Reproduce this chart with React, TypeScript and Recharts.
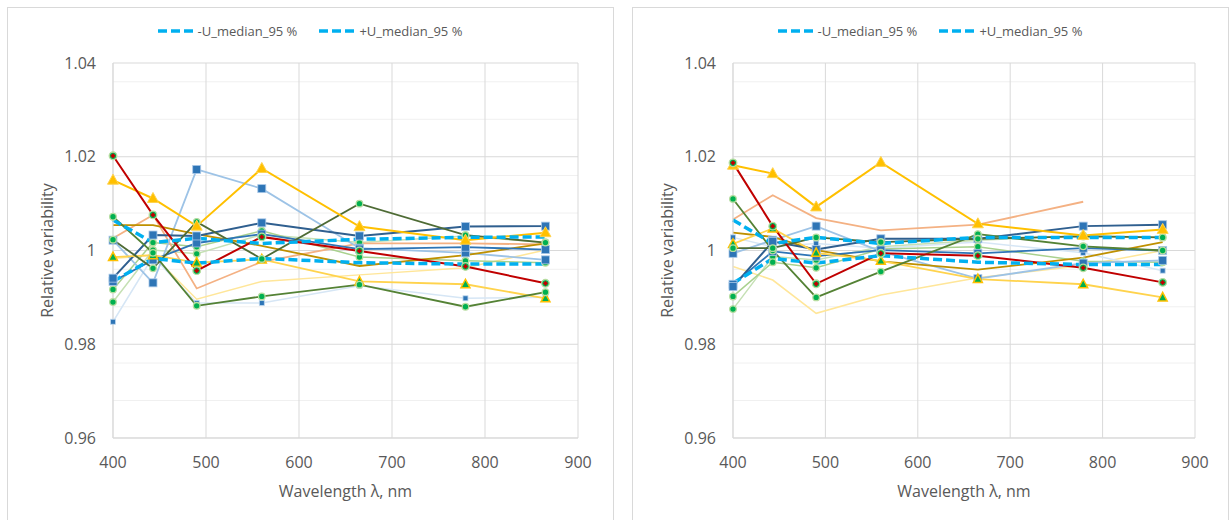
import { CartesianGrid, Label, Line, LineChart, XAxis, YAxis } from 'recharts';

// wavelengths (nm) of the measured bands
const wavelengths = [400, 443, 490, 560, 665, 779, 865];
const xTicks = [400, 500, 600, 700, 800, 900];
const yTicks = [0.96, 0.98, 1.0, 1.02, 1.04];
const yMinor = [0.964, 0.968, 0.972, 0.976, 0.984, 0.988, 0.992, 0.996, 1.004, 1.008, 1.012, 1.016, 1.024, 1.028, 1.032, 1.036];

// left panel
const leftRed = [1.0202, 1.0076, 0.9957, 1.0029, 0.9999, 0.9966, 0.993];
const leftYellow = [1.015, 1.0111, 1.0052, 1.0175, 1.0051, 1.0022, 1.0038];
const leftLightBlue = [1.0022, 0.9931, 1.0173, 1.0132, 1.0005, 0.9995, 0.998];
const leftDarkBlue = [0.9941, 1.0033, 1.0031, 1.0059, 1.0031, 1.0051, 1.0052];
const leftBlue = [0.9934, 0.998, 1.0016, 1.0035, 1.0003, 1.0007, 1.0002];
const leftPaleBlue = [0.9848, 0.9987, 0.9888, 0.9888, 0.9925, 0.9898, 0.99];
const leftDarkGreen = [1.0023, 0.9962, 1.0061, 0.9982, 1.01, 1.0033, 1.0017];
const leftForest = [1.0072, 0.9995, 0.9882, 0.9902, 0.9927, 0.988, 0.9911];
const leftOlive = [1.0054, 1.0054, 1.0035, 1.001, 0.9967, 0.999, 1.0015];
const leftOrange = [1.0026, 1.0076, 0.9919, 0.9976, 1.0015, 1.0015, 1.0013];
const leftPaleYellow = [0.9983, 0.999, 0.9896, 0.9934, 0.9948, 0.9963, 1.0001];
const leftAmber = [0.9986, 0.999, 0.9974, 0.9981, 0.9934, 0.9928, 0.9898];
const leftLightGreen = [0.9917, 1.0017, 1.0008, 1.0042, 0.9986, 0.9978, 0.9974];
const leftPaleGreen = [0.989, 1.0001, 0.9993, 1.0034, 1.0017, 1.0031, 1.0017];
const leftMinusU = [0.9934, 0.9983, 0.9973, 0.9983, 0.9974, 0.9971, 0.9971];
const leftPlusU = [1.0065, 1.0017, 1.0026, 1.0015, 1.0024, 1.0028, 1.0029];

// right panel
const rightRed = [1.0187, 1.0052, 0.9929, 0.9994, 0.9989, 0.9963, 0.9932];
const rightYellow = [1.0182, 1.0164, 1.0093, 1.0188, 1.0057, 1.0032, 1.0045];
const rightOrange = [1.0066, 1.0118, 1.0069, 1.0043, 1.0055, 1.0104, null];
const rightDarkBlue = [0.9923, 1.0019, 1.0002, 1.0025, 1.0025, 1.0052, 1.0055];
const rightBlue = [0.9928, 0.9998, 0.9988, 1.0001, 0.9994, 1.0005, 1.0];
const rightLightBlue = [0.9994, 1.0022, 1.0052, 0.9998, 0.994, 0.9973, 0.9979];
const rightPaleBlue = [1.0028, 1.0008, 1.0015, 1.0005, 1.0018, 0.9995, 0.9957];
const rightForest = [1.011, 1.0, 0.99, 0.9955, 1.0035, 1.0009, 1.0];
const rightDarkGreen = [1.0005, 1.0005, 1.0028, 1.0018, 1.0025, 1.003, 1.0028];
const rightOlive = [1.0038, 1.0029, 1.0001, 0.9977, 0.9959, 0.9985, 1.0018];
const rightPaleYellow = [0.9966, 0.9937, 0.9866, 0.9905, 0.9942, 0.9968, 1.0];
const rightAmber = [1.0014, 1.0047, 0.9995, 0.9978, 0.9939, 0.9928, 0.99];
const rightLightGreen = [0.9902, 0.9975, 0.9963, 1.0003, 1.0008, 0.9977, 0.9975];
const rightPaleGreen = [0.9875, 0.9987, 0.998, 1.0008, 1.0022, 1.0032, 1.0028];
const rightMinusU = [0.993, 0.9983, 0.9973, 0.9989, 0.9975, 0.997, 0.997];
const rightPlusU = [1.0065, 1.0015, 1.0028, 1.0015, 1.0028, 1.0028, 1.0028];

const legendNames = ['-U_median_95 %', '+U_median_95 %'];

type Marker = 'none' | 'square' | 'smallSquare' | 'triangle' | 'greenTriangle' | 'circle' | 'diamond';

interface Series {
  key: string;
  name: string;
  color: string;
  width: number;
  marker: Marker;
  dashed?: boolean;
  values: (number | null)[];
}

const TEXT = '#595959';
const FONT = '"Open Sans", sans-serif';
const U_BLUE = '#00B0F0';

function buildSeries(v: Record<string, (number | null)[]>): Series[] {
  return [
    { key: 'paleYellow', name: 'paleYellow', color: '#FFE699', width: 1.5, marker: 'none', values: v.paleYellow },
    { key: 'paleBlue', name: 'paleBlue', color: '#D6E6F5', width: 1.5, marker: 'smallSquare', values: v.paleBlue },
    { key: 'paleGreen', name: 'paleGreen', color: '#C5E0B4', width: 1.5, marker: 'circle', values: v.paleGreen },
    { key: 'lightGreen', name: 'lightGreen', color: '#A9D18E', width: 1.5, marker: 'circle', values: v.lightGreen },
    { key: 'orange', name: 'orange', color: '#F4B183', width: 1.8, marker: 'none', values: v.orange },
    { key: 'lightBlue', name: 'lightBlue', color: '#9DC3E6', width: 1.8, marker: 'square', values: v.lightBlue },
    { key: 'olive', name: 'olive', color: '#BF9000', width: 1.8, marker: 'none', values: v.olive },
    { key: 'blue', name: 'blue', color: '#2E75B6', width: 1.8, marker: 'square', values: v.blue },
    { key: 'darkBlue', name: 'darkBlue', color: '#2F5F8F', width: 2, marker: 'square', values: v.darkBlue },
    { key: 'amber', name: 'amber', color: '#FFD34D', width: 1.8, marker: 'greenTriangle', values: v.amber },
    { key: 'forest', name: 'forest', color: '#548235', width: 1.8, marker: 'circle', values: v.forest },
    { key: 'darkGreen', name: 'darkGreen', color: '#4E6B35', width: 1.8, marker: 'circle', values: v.darkGreen },
    { key: 'yellow', name: 'yellow', color: '#FFC000', width: 2, marker: 'triangle', values: v.yellow },
    { key: 'red', name: 'red', color: '#C00000', width: 2, marker: 'diamond', values: v.red },
    { key: 'minusU', name: legendNames[0], color: U_BLUE, width: 3.5, marker: 'none', dashed: true, values: v.minusU },
    { key: 'plusU', name: legendNames[1], color: U_BLUE, width: 3.5, marker: 'none', dashed: true, values: v.plusU },
  ];
}

const leftSeries = buildSeries({
  red: leftRed, yellow: leftYellow, lightBlue: leftLightBlue, darkBlue: leftDarkBlue, blue: leftBlue,
  paleBlue: leftPaleBlue, darkGreen: leftDarkGreen, forest: leftForest, olive: leftOlive, orange: leftOrange,
  paleYellow: leftPaleYellow, amber: leftAmber, lightGreen: leftLightGreen, paleGreen: leftPaleGreen,
  minusU: leftMinusU, plusU: leftPlusU,
});

const rightSeries = buildSeries({
  red: rightRed, yellow: rightYellow, lightBlue: rightLightBlue, darkBlue: rightDarkBlue, blue: rightBlue,
  paleBlue: rightPaleBlue, darkGreen: rightDarkGreen, forest: rightForest, olive: rightOlive, orange: rightOrange,
  paleYellow: rightPaleYellow, amber: rightAmber, lightGreen: rightLightGreen, paleGreen: rightPaleGreen,
  minusU: rightMinusU, plusU: rightPlusU,
});

function toRows(series: Series[]) {
  return wavelengths.map((w, i) => {
    const row: Record<string, number | null> = { w };
    series.forEach((s) => { row[s.key] = s.values[i]; });
    return row;
  });
}

function makeDot(marker: Marker) {
  return (props: any) => {
    const { cx, cy, index, value } = props;
    const k = `dot-${index}`;
    if (cx == null || cy == null || value == null) return <g key={k} />;
    switch (marker) {
      case 'square':
        return <rect key={k} x={cx - 4} y={cy - 4} width={8} height={8} fill="#2E75B6" stroke="#A9C8E8" strokeWidth={0.8} />;
      case 'smallSquare':
        return <rect key={k} x={cx - 2.5} y={cy - 2.5} width={5} height={5} fill="#2E75B6" stroke="#BDD7EE" strokeWidth={0.8} />;
      case 'triangle':
        return <path key={k} d={`M${cx},${cy - 6} L${cx + 5.5},${cy + 4} L${cx - 5.5},${cy + 4} Z`} fill="#FFC000" stroke="#FFD34D" strokeWidth={1} />;
      case 'greenTriangle':
        return <path key={k} d={`M${cx},${cy - 5} L${cx + 4.5},${cy + 3.5} L${cx - 4.5},${cy + 3.5} Z`} fill="#00B050" stroke="#FFC000" strokeWidth={1.5} />;
      case 'circle':
        return <circle key={k} cx={cx} cy={cy} r={3.3} fill="#00B050" stroke="#B7DDA0" strokeWidth={1.3} />;
      case 'diamond':
        return (
          <g key={k}>
            <circle cx={cx} cy={cy} r={3.8} fill="#00B050" stroke="#B7DDA0" strokeWidth={1.3} />
            <path d={`M${cx},${cy - 2.6} L${cx + 2.6},${cy} L${cx},${cy + 2.6} L${cx - 2.6},${cy} Z`} fill="#C00000" />
          </g>
        );
      default:
        return <g key={k} />;
    }
  };
}

const fmtY = (v: number) => String(Number(v.toFixed(2)));

interface PanelProps {
  series: Series[];
  left: number;
  width: number;
  marginLeft: number;
  marginRight: number;
  labelOffset: number;
}

function Panel({ series, left, width, marginLeft, marginRight, labelOffset }: PanelProps) {
  const rows = toRows(series);
  return (
    <div style={{ position: 'absolute', left, top: 0, width, height: 520 }}>
      <LineChart width={width} height={520} data={rows} margin={{ top: 63, right: marginRight, bottom: 22, left: marginLeft }}>
        <CartesianGrid horizontalValues={yMinor} vertical={false} stroke="#F0F0F0" strokeWidth={1} />
        <CartesianGrid stroke="#D9D9D9" strokeWidth={1} />
        <XAxis
          dataKey="w"
          type="number"
          domain={[400, 900]}
          ticks={xTicks}
          height={60}
          axisLine={{ stroke: '#D9D9D9' }}
          tickLine={false}
          tickSize={0}
          tickMargin={19}
          tick={{ fill: TEXT, fontSize: 16, fontFamily: FONT }}
        >
          <Label value="Wavelength λ, nm" position="insideBottom" offset={1} fill={TEXT} fontSize={16} fontFamily={FONT} />
        </XAxis>
        <YAxis
          type="number"
          domain={[0.96, 1.04]}
          ticks={yTicks}
          width={75}
          tickFormatter={fmtY}
          axisLine={{ stroke: '#D9D9D9' }}
          tickLine={false}
          tickSize={0}
          tickMargin={17}
          tick={{ fill: TEXT, fontSize: 16, fontFamily: FONT }}
        >
          <Label
            value="Relative variability"
            angle={-90}
            position="insideLeft"
            offset={labelOffset}
            fill={TEXT}
            fontSize={16}
            fontFamily={FONT}
            style={{ textAnchor: 'middle' }}
          />
        </YAxis>
        {series.map((s) => (
          <Line
            key={s.key}
            dataKey={s.key}
            name={s.name}
            type="linear"
            stroke={s.color}
            strokeWidth={s.width}
            strokeDasharray={s.dashed ? '9 4' : undefined}
            dot={s.marker === 'none' ? false : makeDot(s.marker)}
            activeDot={false}
            legendType={s.dashed ? 'line' : 'none'}
            isAnimationActive={false}
          />
        ))}
      </LineChart>
    </div>
  );
}

function LegendRow({ left, width }: { left: number; width: number }) {
  return (
    <div
      style={{
        position: 'absolute', left, top: 21, width, height: 20, display: 'flex', justifyContent: 'center',
        alignItems: 'center', gap: 22, fontFamily: FONT, fontSize: 13, color: TEXT,
      }}
    >
      {legendNames.map((n) => (
        <div key={n} style={{ display: 'flex', alignItems: 'center' }}>
          <svg width={38} height={8} style={{ marginRight: 2 }}>
            <line x1={0} y1={4} x2={38} y2={4} stroke={U_BLUE} strokeWidth={3.5} strokeDasharray="9 4" />
          </svg>
          <span>{n}</span>
        </div>
      ))}
    </div>
  );
}

export default function App() {
  return (
    <div style={{ position: 'absolute', left: 0, top: 0, width: 1229, height: 520, background: '#fff', overflow: 'hidden' }}>
      <div style={{ position: 'absolute', left: 7, top: 7, width: 605, height: 530, border: '1px solid #D9D9D9' }} />
      <div style={{ position: 'absolute', left: 632, top: 7, width: 595, height: 530, border: '1px solid #D9D9D9' }} />
      <LegendRow left={7} width={606} />
      <LegendRow left={632} width={596} />
      <Panel series={leftSeries} left={0} width={615} marginLeft={38} marginRight={37} labelOffset={9} />
      <Panel series={rightSeries} left={615} width={614} marginLeft={43} marginRight={34} labelOffset={9} />
    </div>
  );
}
